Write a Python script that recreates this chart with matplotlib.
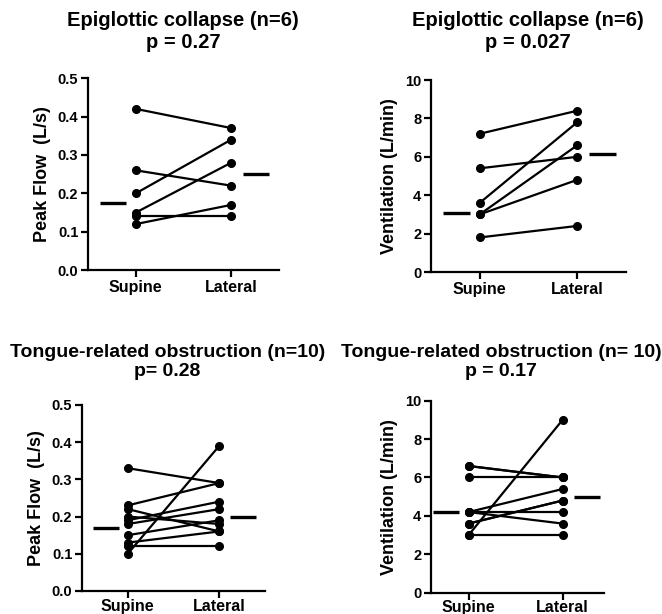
import matplotlib
matplotlib.use("Agg")
import matplotlib.pyplot as plt

plt.rcParams['font.family'] = ['Liberation Sans', 'DejaVu Sans']
plt.rcParams['font.weight'] = 'bold'

# data
conditions = ['Supine', 'Lateral']

epi_flow_supine = [0.42, 0.26, 0.20, 0.15, 0.14, 0.12]
epi_flow_lateral = [0.37, 0.22, 0.34, 0.28, 0.14, 0.17]
epi_flow_median = [0.175, 0.25]

epi_vent_supine = [7.2, 5.4, 3.6, 3.0, 3.0, 1.8]
epi_vent_lateral = [8.4, 6.0, 7.8, 6.6, 4.8, 2.4]
epi_vent_median = [3.05, 6.15]

tng_flow_supine = [0.33, 0.23, 0.10, 0.22, 0.20, 0.19, 0.18, 0.15, 0.13, 0.12]
tng_flow_lateral = [0.29, 0.29, 0.39, 0.16, 0.18, 0.24, 0.22, 0.19, 0.16, 0.12]
tng_flow_median = [0.17, 0.20]

tng_vent_supine = [6.6, 6.6, 6.0, 3.0, 3.0, 4.2, 4.2, 4.2, 3.6, 3.6]
tng_vent_lateral = [6.0, 6.0, 6.0, 9.0, 3.0, 4.2, 3.6, 5.4, 4.8, 4.8]
tng_vent_median = [4.2, 5.0]

flow_ticks = [0.0, 0.1, 0.2, 0.3, 0.4, 0.5]
vent_ticks = [0, 2, 4, 6, 8, 10]

fig = plt.figure(figsize=(6.62, 6.14), dpi=100)


def panel(rect, sup, lat, med, ticks, ylabel, xlim, title, tx, ty, fmt,
          xpad=2, tsize=14.5):
    ax = fig.add_axes(rect)
    for s, l in zip(sup, lat):
        ax.plot([0, 1], [s, l], color='black', lw=1.6, marker='o', ms=5.5,
                solid_capstyle='round', zorder=3, clip_on=False)
    ax.plot([-0.38, -0.1], [med[0], med[0]], color='black', lw=2.4, solid_capstyle='butt')
    ax.plot([1.12, 1.4], [med[1], med[1]], color='black', lw=2.4, solid_capstyle='butt')
    ax.set_xlim(*xlim)
    ax.set_ylim(ticks[0], ticks[-1])
    ax.set_yticks(ticks)
    ax.set_yticklabels([fmt.format(t) for t in ticks], fontsize=10.5, fontweight='bold')
    ax.set_xticks([0, 1])
    ax.set_xticklabels(conditions, fontsize=11.5, fontweight='bold')
    ax.set_ylabel(ylabel, fontsize=13, fontweight='bold', labelpad=5)
    for side in ['top', 'right']:
        ax.spines[side].set_visible(False)
    for side in ['left', 'bottom']:
        ax.spines[side].set_linewidth(1.6)
    ax.tick_params(width=1.6, length=5, pad=2)
    ax.tick_params(axis='x', pad=xpad)
    fig.text(tx, ty, title, ha='center', va='center', fontsize=tsize,
             fontweight='bold', linespacing=1.2)
    return ax


panel([0.133, 0.560, 0.2885, 0.3127], epi_flow_supine, epi_flow_lateral, epi_flow_median,
      flow_ticks, 'Peak Flow  (L/s)', (-0.5, 1.5),
      'Epiglottic collapse (n=6)\np = 0.27', 0.277, 1 - 32 / 614, '{:.1f}')
panel([0.651, 0.557, 0.2946, 0.3127], epi_vent_supine, epi_vent_lateral, epi_vent_median,
      vent_ticks, 'Ventilation (L/min)', (-0.5, 1.5),
      'Epiglottic collapse (n=6)\np = 0.027', 0.798, 1 - 32 / 614, '{:d}')
panel([0.1239, 0.0375, 0.2764, 0.303], tng_flow_supine, tng_flow_lateral, tng_flow_median,
      flow_ticks, 'Peak Flow  (L/s)', (-0.5, 1.5),
      'Tongue-related obstruction (n=10)\np= 0.28', 0.253, 1 - 362 / 614, '{:.1f}',
      xpad=0.5, tsize=14)
panel([0.651, 0.0347, 0.2613, 0.3127], tng_vent_supine, tng_vent_lateral, tng_vent_median,
      vent_ticks, 'Ventilation (L/min)', (-0.4, 1.44),
      'Tongue-related obstruction (n= 10)\np = 0.17', 0.757, 1 - 362 / 614, '{:d}',
      xpad=0.5, tsize=14)

fig.savefig('out.png', dpi=100)
